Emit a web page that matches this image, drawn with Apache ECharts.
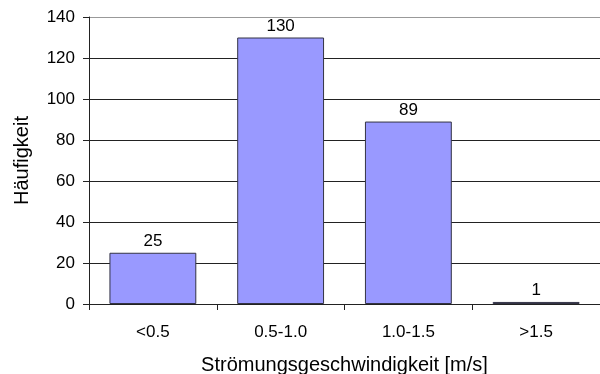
<!DOCTYPE html>
<html>
<head>
<meta charset="utf-8">
<script src="https://cdn.jsdelivr.net/npm/echarts@6/dist/echarts.min.js"></script>
<style>
  html, body { margin: 0; padding: 0; background: #fff; }
  #chart { width: 600px; height: 374px; }
</style>
</head>
<body>
<div id="chart"></div>
<script>
// Velocity classes and their counts
const categories = ['<0.5', '0.5-1.0', '1.0-1.5', '>1.5'];
const counts = [25, 130, 89, 1];
const xAxisTitle = 'Strömungsgeschwindigkeit [m/s]';
const yAxisTitle = 'Häufigkeit';

const font = 'Liberation Sans, Arial, sans-serif';
const chart = echarts.init(document.getElementById('chart'), null, { renderer: 'canvas' });

chart.setOption({
  animation: false,
  backgroundColor: '#fff',
  grid: { left: 89, right: 0, top: 17, bottom: 70, outerBoundsMode: 'none', containLabel: false },
  xAxis: {
    type: 'category',
    data: categories,
    name: xAxisTitle,
    nameLocation: 'middle',
    nameGap: 51,
    nameTextStyle: { fontFamily: font, fontSize: 20, color: '#000' },
    axisLine: { lineStyle: { color: '#222', width: 1 } },
    axisTick: { show: true, alignWithLabel: false, length: 6, inside: false, lineStyle: { color: '#222' } },
    axisLabel: { fontFamily: font, fontSize: 17, color: '#000', margin: 20 }
  },
  yAxis: {
    type: 'value',
    min: 0,
    max: 140,
    interval: 20,
    name: yAxisTitle,
    nameLocation: 'middle',
    nameGap: 57,
    nameRotate: 90,
    nameTextStyle: { fontFamily: font, fontSize: 20, color: '#000' },
    axisLine: { show: true, lineStyle: { color: '#222', width: 1 } },
    axisTick: { show: true, length: 6, lineStyle: { color: '#222' } },
    axisLabel: { fontFamily: font, fontSize: 17, color: '#000', margin: 14 },
    splitLine: {
      show: true,
      lineStyle: { color: ['#222', '#222', '#222', '#222', '#222', '#222', '#222', '#999'], width: 1 }
    }
  },
  series: [{
    type: 'bar',
    data: counts,
    barWidth: '68%',
    itemStyle: { color: '#9999ff', borderColor: '#333344', borderWidth: 1 },
    label: {
      show: true,
      position: 'top',
      distance: 3,
      fontFamily: font,
      fontSize: 17,
      color: '#000'
    }
  }]
});
</script>
</body>
</html>
